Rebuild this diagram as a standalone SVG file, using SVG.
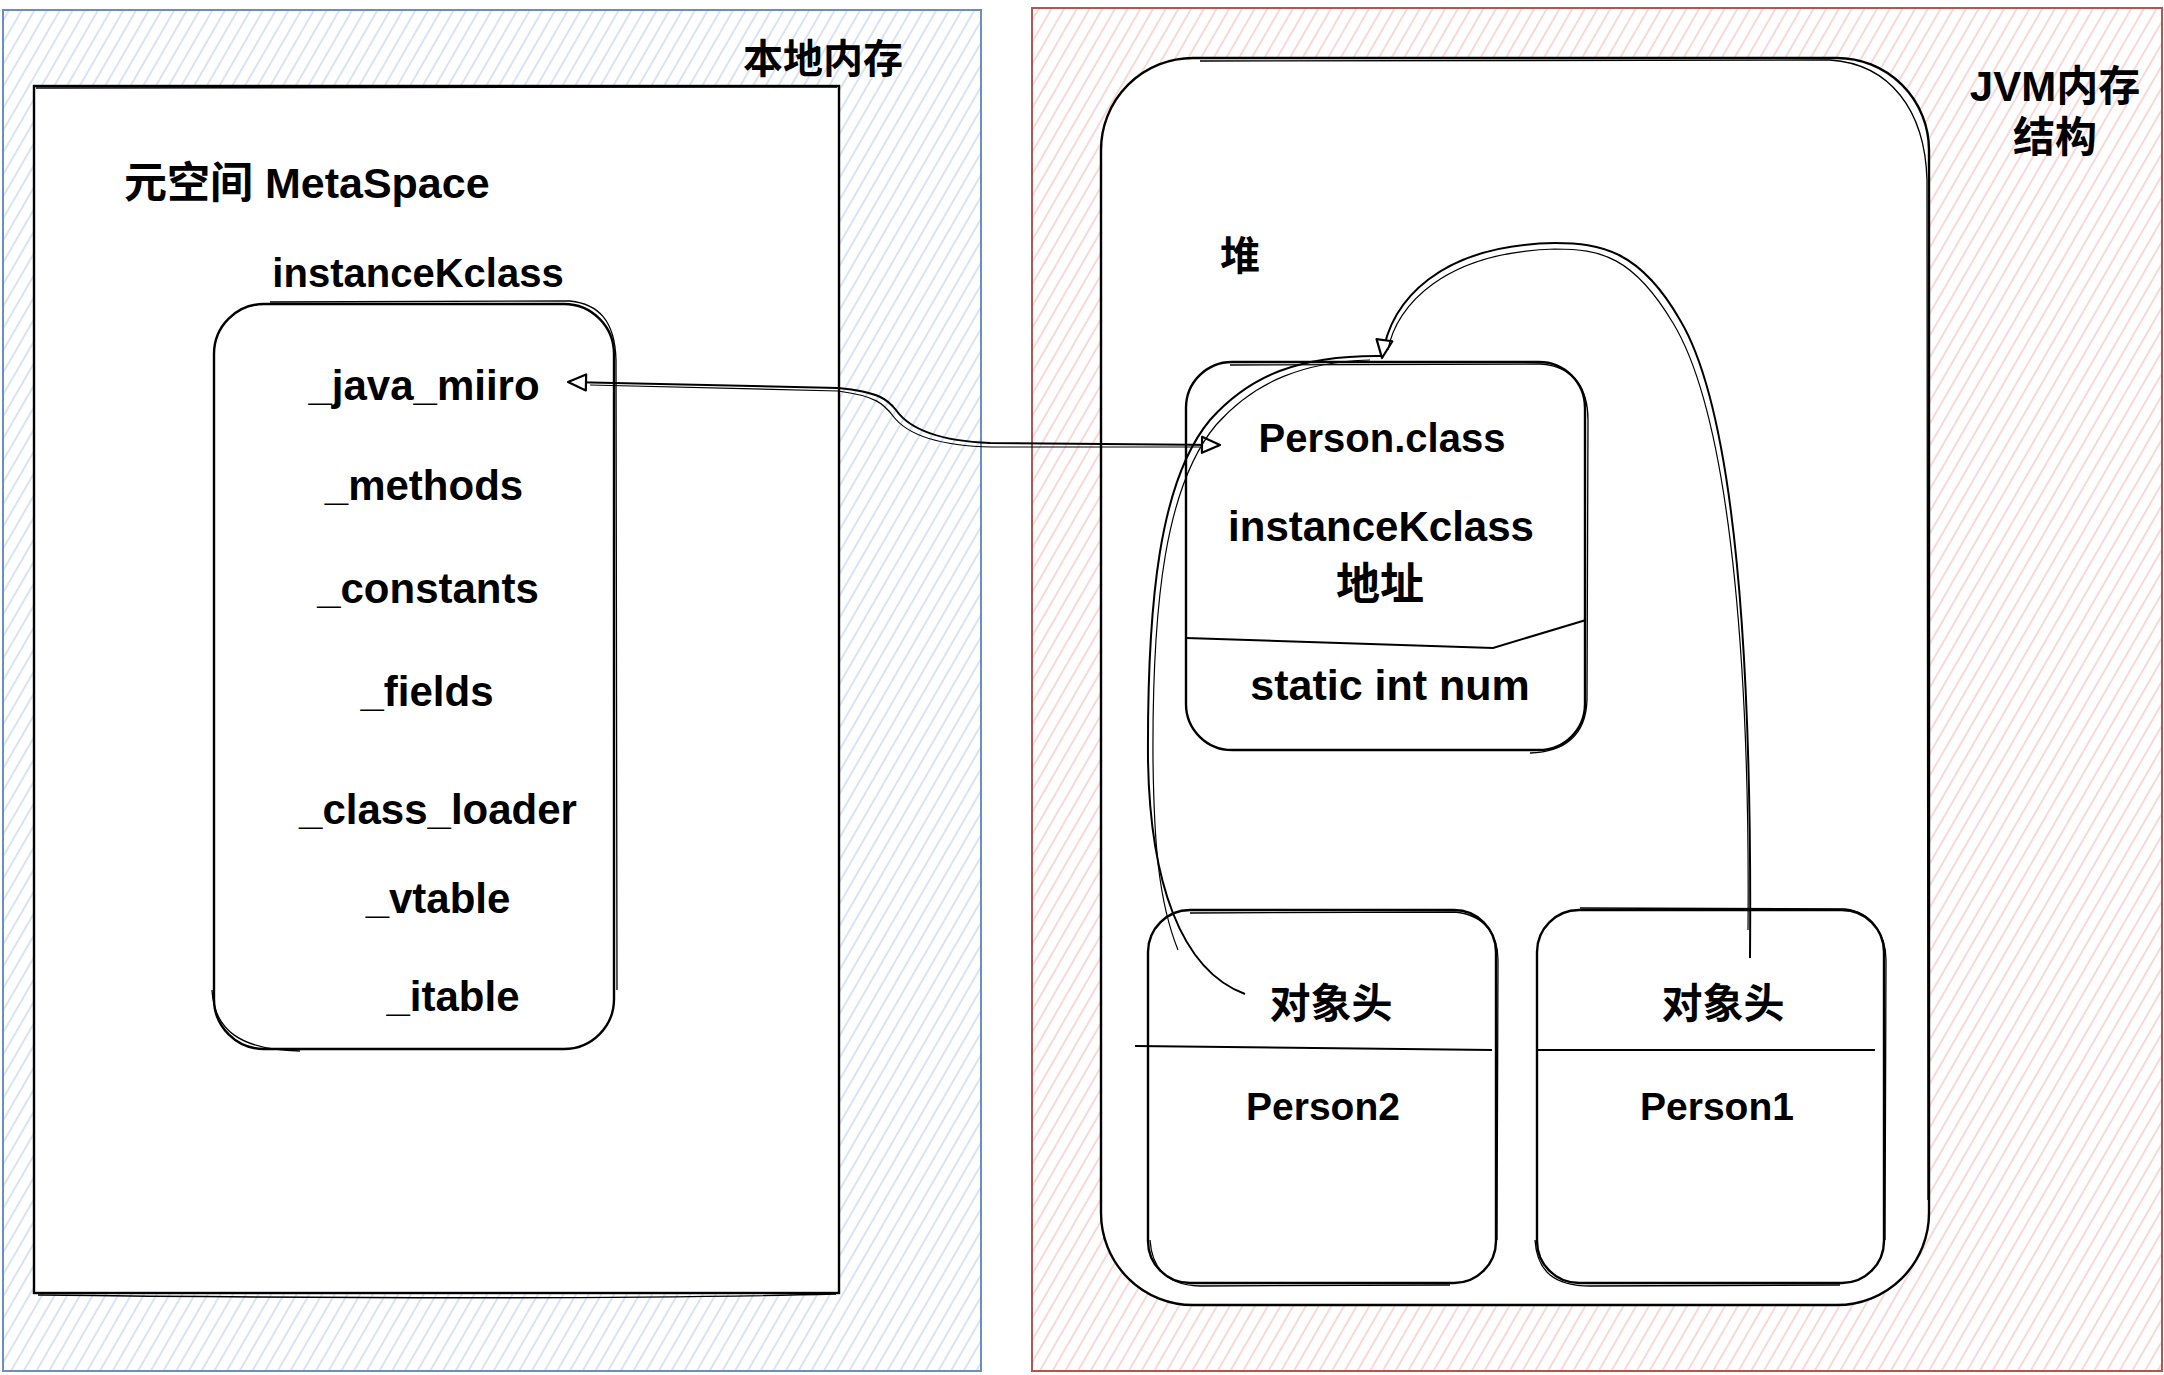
<svg xmlns="http://www.w3.org/2000/svg" width="2164" height="1375" viewBox="0 0 2164 1375">
<defs>
<pattern id="hatchBlue" patternUnits="userSpaceOnUse" width="11" height="11" patternTransform="rotate(30)">
<rect width="11" height="11" fill="#ffffff"/>
<line x1="2" y1="0" x2="2" y2="11" stroke="#bfd1ec" stroke-width="1.2"/>
</pattern>
<pattern id="hatchRed" patternUnits="userSpaceOnUse" width="11" height="11" patternTransform="rotate(30)">
<rect width="11" height="11" fill="#ffffff"/>
<line x1="2" y1="0" x2="2" y2="11" stroke="#f4bfbd" stroke-width="1.2"/>
</pattern>
<marker id="openArrow" markerUnits="userSpaceOnUse" markerWidth="24" markerHeight="24" viewBox="0 0 24 24" refX="21" refY="12" orient="auto-start-reverse">
<path d="M3,4 L21,12 L3,20 Z" fill="#ffffff" stroke="#000000" stroke-width="2.2" stroke-linejoin="round"/>
</marker>
</defs>
<style>
.box{fill:#ffffff;stroke:#000000;stroke-width:2.4}
.sk{fill:none;stroke:#000000;stroke-width:1.3}
.line{fill:none;stroke:#000000;stroke-width:2}
.line2{fill:none;stroke:#000000;stroke-width:1.2}
.t{font-family:"Liberation Sans","Noto Sans CJK SC",sans-serif;font-weight:bold;fill:#000000;text-anchor:middle}
</style>

<g id="local-memory">
<rect x="3" y="10" width="978" height="1361" fill="url(#hatchBlue)" stroke="#6c8ebf" stroke-width="2"/>
<text class="t" x="823" y="73" font-size="40">本地内存</text>
</g>

<g id="jvm-memory">
<rect x="1032" y="8" width="1130" height="1363" fill="url(#hatchRed)" stroke="#b85450" stroke-width="2"/>
<text class="t" x="2055" y="101" font-size="42">JVM内存</text>
<text class="t" x="2055" y="152" font-size="42">结构</text>
</g>

<g id="metaspace">
<rect class="box" x="34" y="86" width="805" height="1207"/>
<path class="sk" d="M36,88 L837,87 M38,1295 C300,1298 600,1300 836,1294"/>
<text class="t" x="124" y="198" font-size="43" style="text-anchor:start">元空间 MetaSpace</text>
</g>

<g id="heap">
<rect class="box" x="1101" y="58" width="828" height="1247" rx="92" ry="92"/>
<path class="sk" d="M1200,61 L1830,60 C1890,64 1925,110 1927,180 L1928,1200"/>
<text class="t" x="1240" y="270" font-size="40">堆</text>
</g>

<g id="instanceKclass">
<text class="t" x="418" y="287" font-size="40">instanceKclass</text>
<rect class="box" x="214" y="304" width="400" height="745" rx="50" ry="50"/>
<path class="sk" d="M270,302 L570,301 C598,304 615,320 616,360 L617,990 M212,990 C214,1030 240,1050 300,1051"/>
<text class="t" x="424" y="400" font-size="42">_java_miiro</text>
<text class="t" x="424" y="500" font-size="42">_methods</text>
<text class="t" x="428" y="603" font-size="42">_constants</text>
<text class="t" x="427" y="706" font-size="42">_fields</text>
<text class="t" x="438" y="824" font-size="42">_class_loader</text>
<text class="t" x="438" y="913" font-size="42">_vtable</text>
<text class="t" x="453" y="1011" font-size="42">_itable</text>
</g>

<g id="person-class">
<rect class="box" x="1186" y="362" width="399" height="388" rx="46" ry="46"/>
<path class="sk" d="M1230,365 L1540,364 C1575,366 1588,390 1588,420 L1587,700 C1586,735 1565,752 1530,753"/>
<polyline class="line" points="1186,638 1493,648 1586,620"/>
<text class="t" x="1382" y="452" font-size="40">Person.class</text>
<text class="t" x="1381" y="541" font-size="42">instanceKclass</text>
<text class="t" x="1380" y="600" font-size="44">地址</text>
<text class="t" x="1390" y="700" font-size="43">static int num</text>
</g>

<g id="person2">
<rect class="box" x="1148" y="910" width="348" height="373" rx="42" ry="42"/>
<path class="sk" d="M1190,913 L1455,912 C1485,915 1498,935 1498,960 L1497,1240 M1150,1240 C1152,1270 1168,1285 1200,1286 L1450,1285"/>
<path class="line" d="M1135,1046 L1492,1050"/>
<text class="t" x="1331" y="1018" font-size="41">对象头</text>
<text class="t" x="1323" y="1120" font-size="39">Person2</text>
</g>

<g id="person1">
<rect class="box" x="1537" y="910" width="347" height="373" rx="42" ry="42"/>
<path class="sk" d="M1580,908 L1845,909 C1872,912 1886,935 1886,960 L1885,1240 M1535,1240 C1537,1272 1555,1286 1590,1286 L1840,1285"/>
<path class="line" d="M1537,1050 L1875,1050"/>
<text class="t" x="1723" y="1018" font-size="41">对象头</text>
<text class="t" x="1717" y="1120" font-size="39">Person1</text>
</g>

<g id="connectors">
<path class="line" d="M568,382 L838,388 C880,392 888,400 896,410 C910,430 940,441 990,443 L1220,445" marker-start="url(#openArrow)" marker-end="url(#openArrow)"/>
<path class="line2" d="M590,385 L838,391 C876,396 884,404 893,416 C908,436 942,446 992,447 L1200,447"/>
<path class="line" d="M1750,958 C1752,700 1740,420 1680,320 C1640,250 1600,243 1555,243 C1440,245 1390,300 1382,358" marker-end="url(#openArrow)"/>
<path class="line2" d="M1748,930 C1750,700 1735,425 1673,323 C1633,256 1600,249 1555,249 C1445,252 1396,305 1388,350"/>
<path class="line" d="M1245,994 C1180,970 1150,880 1148,760 C1147,600 1160,480 1210,420 C1250,375 1300,355 1382,356"/>
<path class="line2" d="M1178,950 C1158,900 1154,840 1153,760 C1152,600 1166,485 1216,425 C1256,380 1305,362 1370,360"/>
</g>
</svg>
